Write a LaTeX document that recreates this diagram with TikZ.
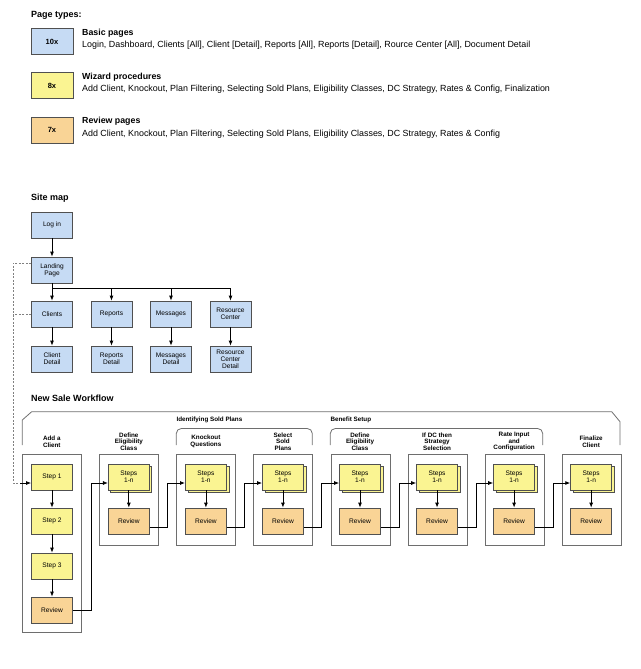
\documentclass[tikz,border=0pt]{standalone}
\usepackage{fontspec}
\setmainfont{Liberation Sans}
\usetikzlibrary{arrows.meta}
\definecolor{pageblue}{RGB}{198,219,244}
\definecolor{wizyellow}{RGB}{250,244,146}
\definecolor{revorange}{RGB}{249,212,150}
\definecolor{edgegray}{RGB}{80,80,80}
\definecolor{framegray}{RGB}{110,110,110}
\begin{document}
\begin{tikzpicture}[x=1pt, y=-1pt, >={Latex[length=5pt,width=4pt]}]
    \tikzset{
        box/.style={rectangle, draw=edgegray, line width=0.8pt, minimum width=41pt, minimum height=26pt, inner sep=0pt, align=center, font=\fontsize{6.6}{7}\selectfont},
        sitebox/.style={box, fill=pageblue},
        stepbox/.style={box, fill=wizyellow},
        reviewbox/.style={box, fill=revorange},
        legbox/.style={box, minimum width=42pt, font=\bfseries\fontsize{7.5}{8}\selectfont},
        colbox/.style={rectangle, draw=framegray, line width=0.8pt, anchor=north west, minimum width=59pt, minimum height=91pt, inner sep=0pt},
        collabel/.style={align=center, inner sep=0pt, font=\bfseries\fontsize{6.3}{6.6}\selectfont},
        heading/.style={anchor=west, inner sep=0pt, font=\bfseries\fontsize{9}{10}\selectfont},
        legtitle/.style={anchor=west, inner sep=0pt, font=\bfseries\fontsize{8.8}{10}\selectfont},
        legtext/.style={anchor=west, inner sep=0pt, font=\fontsize{8.9}{10}\selectfont},
        arr/.style={->, line width=0.8pt},
        link/.style={draw=gray, line width=0.8pt, dash pattern=on 2pt off 1.5pt},
        bracket/.style={draw=framegray, line width=0.8pt}
    }
    \useasboundingbox (0,0) rectangle (640,669);

    % page types
    \node[heading] (ptypes) at (31,15) {Page types:};
    \node[legbox, fill=pageblue] (leg1) at (52,41.5) {10x};
    \node[legtitle] (legt1) at (82,33) {Basic pages};
    \node[legtext] (legd1) at (82,45.5) {Login, Dashboard, Clients [All], Client [Detail], Reports [All], Reports [Detail], Rource Center [All], Document Detail};
    \node[legbox, fill=wizyellow] (leg2) at (52,85.5) {8x};
    \node[legtitle] (legt2) at (82,77) {Wizard procedures};
    \node[legtext] (legd2) at (82,89.5) {Add Client, Knockout, Plan Filtering, Selecting Sold Plans, Eligibility Classes, DC Strategy, Rates \& Config, Finalization};
    \node[legbox, fill=revorange] (leg3) at (52,130) {7x};
    \node[legtitle] (legt3) at (82,121.5) {Review pages};
    \node[legtext] (legd3) at (82,134.5) {Add Client, Knockout, Plan Filtering, Selecting Sold Plans, Eligibility Classes, DC Strategy, Rates \& Config};

    % site map
    \node[heading] (sitemap) at (31,198.5) {Site map};
    \node[sitebox] (login) at (52,225) {Log in};
    \node[sitebox] (landing) at (52,270) {Landing\\Page};
    \node[sitebox] (clients) at (52,314) {Clients};
    \node[sitebox] (reports) at (111.5,314) {Reports};
    \node[sitebox] (messages) at (171,314) {Messages};
    \node[sitebox] (resource) at (230.5,314) {Resource\\Center};
    \node[sitebox] (clientdet) at (52,359) {Client\\Detail};
    \node[sitebox] (reportsdet) at (111.5,359) {Reports\\Detail};
    \node[sitebox] (messagesdet) at (171,359) {Messages\\Detail};
    \node[sitebox] (resourcedet) at (230.5,359) {Resource\\Center\\Detail};

    \draw[arr] (login) -- (landing);
    \coordinate (bus) at (52,288);
    \draw[line width=0.8pt] (landing.south) -- (bus) -- (bus -| resource.north);
    \foreach \n in {clients, reports, messages, resource} {
        \draw[arr] (bus -| \n.north) -- (\n.north);
    }
    \draw[arr] (clients) -- (clientdet);
    \draw[arr] (reports) -- (reportsdet);
    \draw[arr] (messages) -- (messagesdet);
    \draw[arr] (resource) -- (resourcedet);

    % new sale workflow
    \node[heading] (workflow) at (31,398) {New Sale Workflow};
    \draw[bracket] (22.3,445) -- (22.3,420) -- (31.7,411.7) -- (611.7,411.7) -- (620,421.7) -- (620,445);
    \draw[bracket, rounded corners=5pt] (176.3,445) -- (176.3,428.5) -- (312.3,428.5) -- (312.3,445);
    \draw[bracket, rounded corners=5pt] (330.3,445) -- (330.3,428.5) -- (542.7,428.5) -- (542.7,445);
    \node[collabel, anchor=west] (identify) at (176.3,419.5) {Identifying Sold Plans};
    \node[collabel, anchor=west] (benefit) at (330.3,419.5) {Benefit Setup};

    % add a client
    \node[colbox, minimum height=178pt] (col1) at (22.3,454) {};
    \node[collabel] (lab1) at (51.8,441.5) {Add a\\Client};
    \node[stepbox] (step1) at (52,477) {Step 1};
    \node[stepbox] (step2) at (52,521) {Step 2};
    \node[stepbox] (step3) at (52,566) {Step 3};
    \node[reviewbox] (rev1) at (52,610) {Review};
    \draw[arr] (step1) -- (step2);
    \draw[arr] (step2) -- (step3);
    \draw[arr] (step3) -- (rev1);

    % wizard columns
    \foreach \i/\lbl in {2/{Define\\Eligibility\\Class}, 3/{Knockout\\Questions}, 4/{Select\\Sold\\Plans}, 5/{Define\\Eligibility\\Class}, 6/{If DC then\\Strategy\\Selection}, 7/{Rate Input\\and\\Configuration}, 8/{Finalize\\Client}} {
        \pgfmathsetmacro\cl{22.3+77.05*(\i-1)}
        \pgfmathsetmacro\cx{\cl+29.5}
        \node[colbox] (col\i) at (\cl,454) {};
        \node[collabel] (lab\i) at (\cx,441.5) {\lbl};
        \node[stepbox] (back\i) at (\cx+2.5,479.5) {};
        \node[stepbox] (st\i) at (\cx,477) {Steps\\1-n};
        \node[reviewbox] (rev\i) at (\cx,521) {Review};
        \draw[arr] (st\i) -- (rev\i);
    }

    % connectors
    \coordinate (dtop) at (13,263);
    \coordinate (dbot) at (13,483);
    \coordinate (dend) at (20,483);
    \draw[link] ([yshift=7pt]landing.west) -- (dtop) -- (dbot) -- (dend);
    \draw[link] (clients.west) -- (clients.west -| dtop);
    \draw[arr] (dend) -- ([yshift=-6pt]step1.west);
    \draw[arr] (rev1.east) -- ++(18.5,0) |- ([yshift=-6pt]st2.west);
    \foreach \i [evaluate=\i as \j using int(\i+1)] in {2,...,7} {
        \draw[arr] ([yshift=-6pt]rev\i.east) -- ++(18,0) |- ([yshift=-6pt]st\j.west);
    }
\end{tikzpicture}
\end{document}
